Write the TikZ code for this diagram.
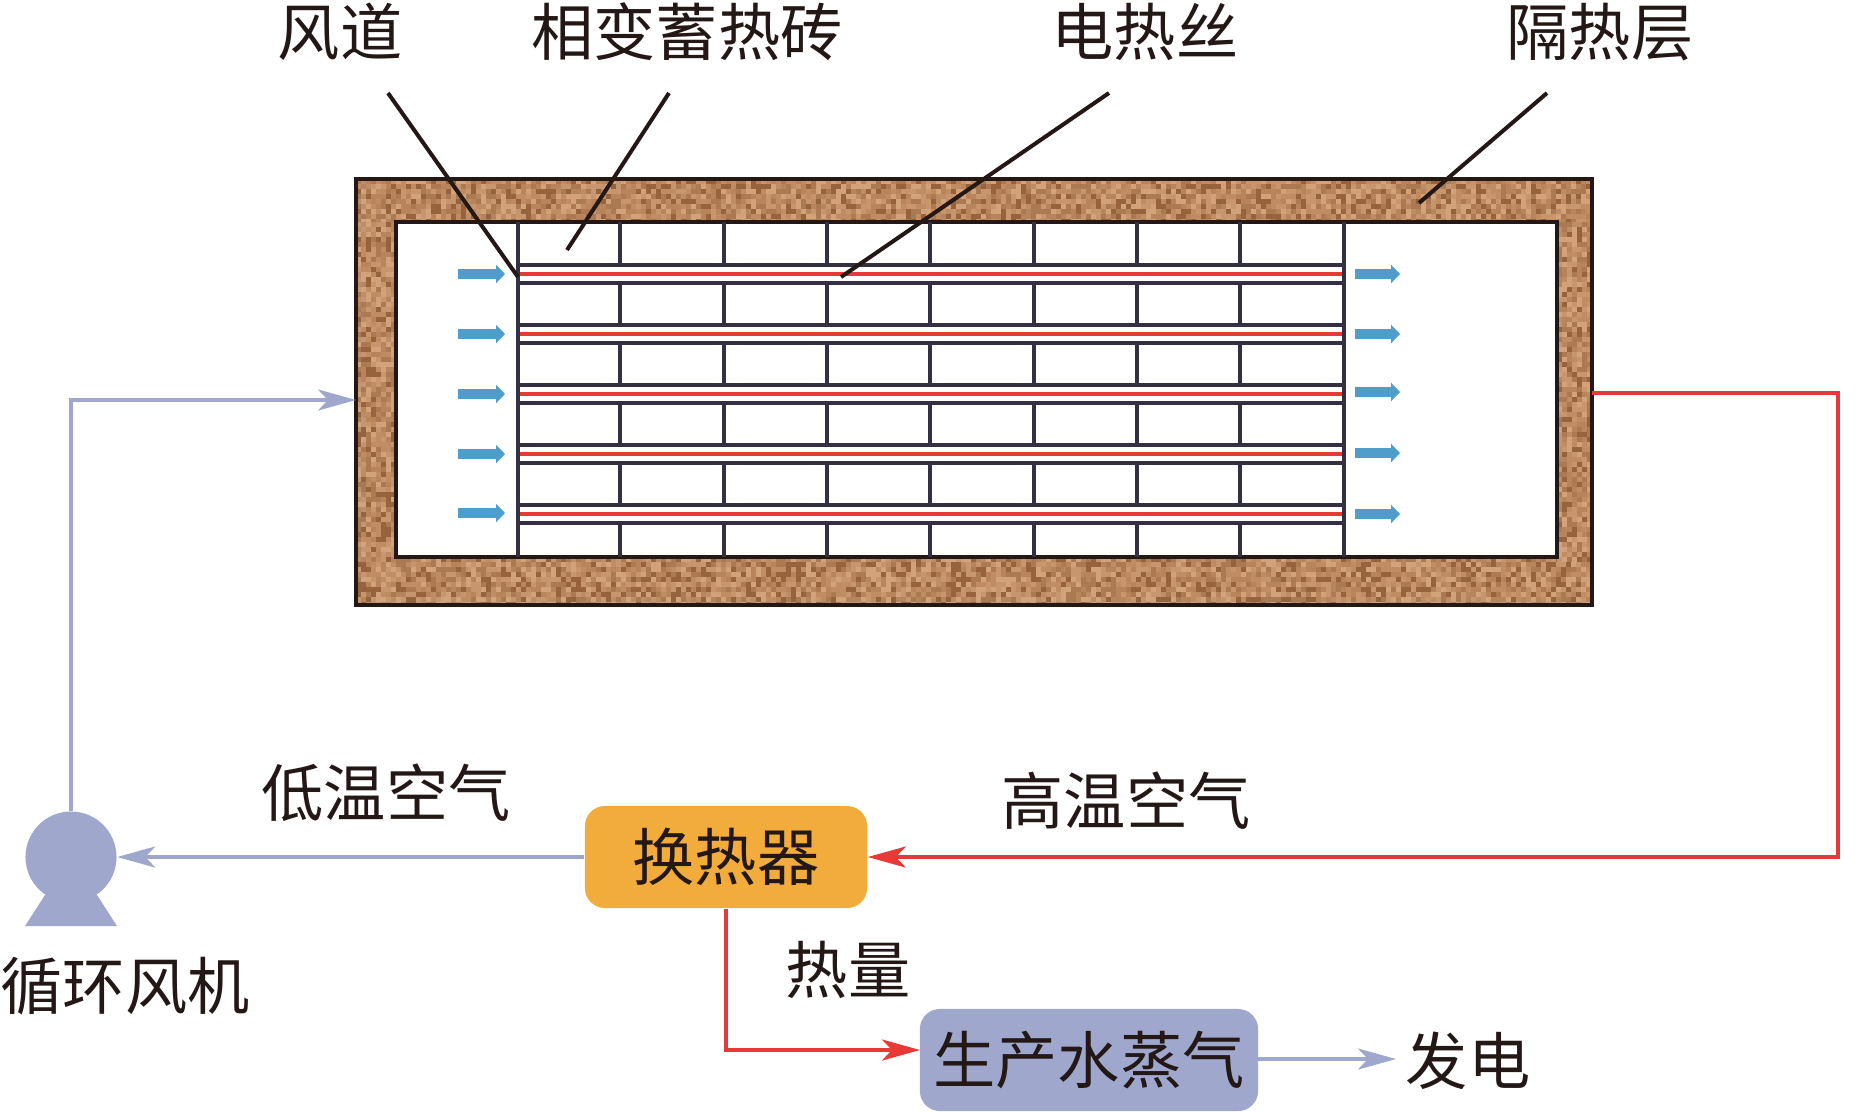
\documentclass[tikz,border=0pt]{standalone}
\usepackage{fontspec}
\newfontfamily\cjk{Noto Sans CJK SC}
\usetikzlibrary{arrows.meta}

\definecolor{cork0}{HTML}{C08C64}
\definecolor{cork1}{HTML}{B8845C}
\definecolor{cork2}{HTML}{D2A27A}
\definecolor{cork3}{HTML}{AC7A52}
\definecolor{cork4}{HTML}{C8966E}
\definecolor{cork5}{HTML}{96633C}
\definecolor{wallblack}{HTML}{231815}
\definecolor{brickline}{HTML}{352F42}
\definecolor{hotred}{HTML}{E73A36}
\definecolor{coldblue}{HTML}{9FA8CC}
\definecolor{airblue}{HTML}{4F9DCB}
\definecolor{boxorange}{HTML}{F2AC3C}

\newcommand{\corkstrip}[4]{%
  \pgfmathtruncatemacro\corkxb{#1+5}\pgfmathtruncatemacro\corkyb{#2+5}%
  \foreach \x in {#1,\corkxb,...,#3}{\foreach \y in {#2,\corkyb,...,#4}{%
    \pgfmathrandominteger{\corkpick}{0}{5}%
    \fill[cork\corkpick] (\x,\y) rectangle ++(5.3,5.3);}}}

\tikzset{
  lbl/.style={font=\cjk\fontsize{17.7}{20}\selectfont,text=wallblack,inner sep=0pt},
  procbox/.style={lbl,rounded corners=2mm,minimum height=1.02cm},
  leader/.style={draw=wallblack,line width=0.4mm},
  coldflow/.style={draw=coldblue,line width=0.38mm,-{Stealth[length=3.8mm,width=2.1mm,inset=1mm]}},
  hotflow/.style={draw=hotred,line width=0.38mm,-{Stealth[length=3.8mm,width=2.1mm,inset=1mm]}},
  airflow/.style={draw=airblue,line width=0.95mm,-{Triangle[length=0.9mm,width=1.8mm]}},
}

\begin{document}
\begin{tikzpicture}[x=0.01cm,y=-0.01cm]
\useasboundingbox (0,0) rectangle (1870,1111);
% insulation wall
\begin{scope}
\clip (356,179) rectangle (1592,605);
\pgfmathsetseed{7}
\corkstrip{356}{179}{1592}{222}
\corkstrip{356}{557}{1592}{605}
\corkstrip{356}{222}{396}{557}
\corkstrip{1557}{222}{1592}{557}
\end{scope}
\draw[wallblack,line width=0.48mm] (356,179) rectangle (1592,605);
\draw[wallblack,fill=white,line width=0.48mm] (396,222) rectangle (1557,557);
% bricks
\foreach \x in {620,724,827,930,1034,1137,1240}{\draw[brickline,line width=0.4mm] (\x,222)--(\x,557);}
\foreach \y in {274,334,394,454,514}{
  \fill[white] (518,\y-9) rectangle (1344,\y+9);
  \draw[brickline,line width=0.4mm] (518,\y-9)--(1344,\y-9);
  \draw[brickline,line width=0.4mm] (518,\y+9)--(1344,\y+9);
  \draw[hotred,line width=0.4mm] (518,\y)--(1344,\y);
}
\draw[brickline,line width=0.4mm] (518,222)--(518,557);
\draw[brickline,line width=0.4mm] (1344,222)--(1344,557);
% air arrows
\foreach \y in {274,334,394,454,513}{\draw[airflow] (458,\y)--(505,\y);}
\foreach \y in {274,334,392,453,514}{\draw[airflow] (1355,\y)--(1400,\y);}
% labels
\node[lbl] (ductlbl) at (340,32){风道};
\node[lbl] (bricklbl) at (687,32){相变蓄热砖};
\node[lbl] (wirelbl) at (1145,32){电热丝};
\node[lbl] (insullbl) at (1600,32){隔热层};
\node[lbl] (coldlbl) at (386,793){低温空气};
\node[lbl] (hotlbl) at (1126,801){高温空气};
\node[lbl] (fanlbl) at (125,986){循环风机};
\node[lbl] (heatlbl) at (848,970){热量};
\node[lbl] (powerlbl) at (1468,1061){发电};
% leaders
\coordinate (ducta) at (388,93); \coordinate (ductb) at (518,277);
\coordinate (bricka) at (669,93); \coordinate (brickb) at (567,250);
\coordinate (wirea) at (1109,93); \coordinate (wireb) at (841,277);
\coordinate (insula) at (1547,93); \coordinate (insulb) at (1419,203);
\draw[leader] (ducta)--(ductb);
\draw[leader] (bricka)--(brickb);
\draw[leader] (wirea)--(wireb);
\draw[leader] (insula)--(insulb);
% boxes
\node[procbox,fill=boxorange,minimum width=2.82cm] (exch) at (726,857){换热器};
\node[procbox,fill=coldblue,minimum width=3.38cm] (steam) at (1089,1060){生产水蒸气};
% fan
\fill[coldblue] (25,926)--(117,926)--(97,895)--(45,895)--cycle;
\node[circle,fill=coldblue,minimum size=0.91cm,inner sep=0pt] (fan) at (71,857){};
% flows
\coordinate (wallin) at (356,400); \coordinate (wallout) at (1592,393);
\coordinate (hotcorner) at (1838,393); \coordinate (steamin) at (920,1050);
\coordinate (powerin) at (1396,1059); \coordinate (steamout) at (1258,1059);
\draw[coldflow] (fan.north) |- (wallin);
\draw[coldflow] (exch.west)--(fan.east);
\draw[hotflow] (wallout)--(hotcorner)|-(exch.east);
\draw[hotflow] (exch.south)|-(steamin);
\draw[coldflow] (steamout)--(powerin);
\end{tikzpicture}
\end{document}
